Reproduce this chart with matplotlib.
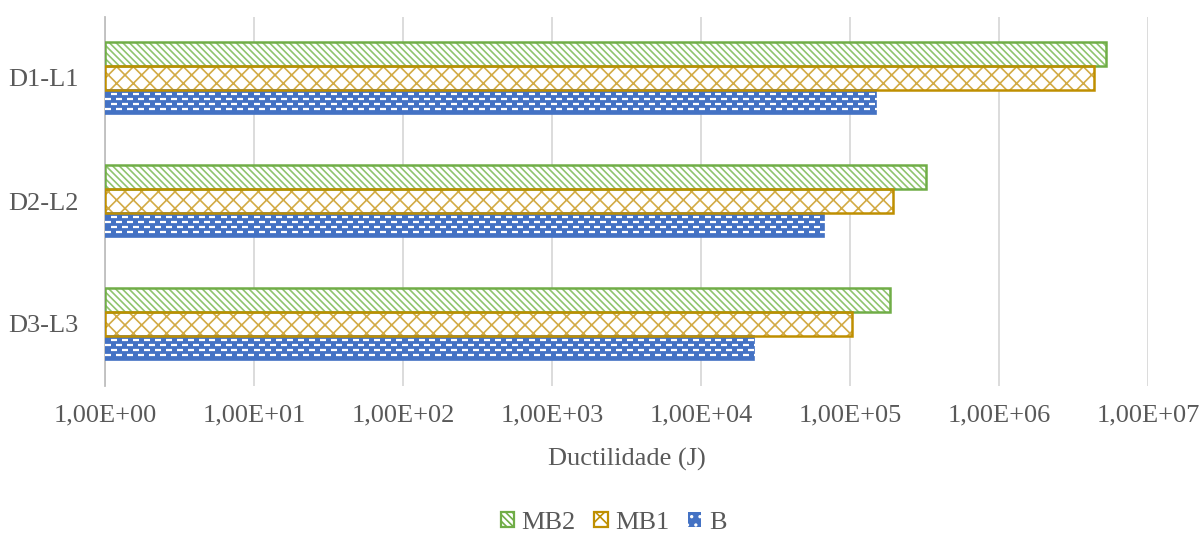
import numpy as np
import matplotlib
matplotlib.use("Agg")
import matplotlib.pyplot as plt
import matplotlib.transforms as mtransforms
from matplotlib.ticker import FuncFormatter, LogLocator, NullLocator
from matplotlib.patches import Patch

categories = ["D1-L1", "D2-L2", "D3-L3"]
series = ["MB2", "MB1", "B"]
mb2 = [5.2e6, 3.25e5, 1.85e5]
mb1 = [4.35e6, 1.95e5, 1.03e5]
b = [1.49e5, 6.7e4, 2.27e4]

plt.rcParams['font.family'] = ['Liberation Serif', 'DejaVu Serif']
plt.rcParams['hatch.linewidth'] = 1.2
txt = '#595959'
grid = '#d9d9d9'
green = '#70AD47'
green_h = '#8fc46e'
gold = '#BF8F00'
gold_h = '#d2ab45'
blue = '#4472C4'
fs = 19

W, H = 1201, 536
fig = plt.figure(figsize=(W / 100, H / 100), dpi=100)
ax_px = [105, 1148, 16.5, 385.5]
ax = fig.add_axes([ax_px[0] / W, 1 - ax_px[3] / H, (ax_px[1] - ax_px[0]) / W,
                   (ax_px[3] - ax_px[2]) / H])
ax_w = ax_px[1] - ax_px[0]
ax_h = ax_px[3] - ax_px[2]

ypos = np.arange(len(categories))[::-1]
h = 0.195

# MB2: light green diagonal hatch + green outline
ax.barh(ypos + h, mb2, height=h, left=1, facecolor='white', edgecolor=green_h,
        hatch='\\\\\\\\\\', linewidth=0, zorder=3)
ax.barh(ypos + h, mb2, height=h, left=1, facecolor='none', edgecolor=green,
        linewidth=1.8, zorder=4)
# MB1: gold weave-ish hatch + outline
ax.barh(ypos, mb1, height=h, left=1, facecolor='white', edgecolor=gold_h,
        hatch='xx', linewidth=0, zorder=3)
ax.barh(ypos, mb1, height=h, left=1, facecolor='none', edgecolor=gold,
        linewidth=1.8, zorder=4)
# B: blue fill with staggered white dashes
bars_b = ax.barh(ypos - h, b, height=h, left=1, facecolor=blue, edgecolor=blue,
                 linewidth=1.2, zorder=3)
trans = mtransforms.blended_transform_factory(ax.transAxes, ax.transData)
px_y = 3.0 / ax_h
step = 11.0 / ax_w
for rect, yc in zip(bars_b.patches, ypos - h):
    for k, off in enumerate([-7.5, -2.5, 2.5, 7.5]):
        xs = np.arange(3.0 / ax_w + (k % 2) * step / 2, 1, step)
        dots = ax.scatter(xs, np.full_like(xs, yc + off * px_y), marker='_',
                          s=16, linewidths=1.6, color='white', transform=trans,
                          zorder=3.5)
        dots.set_clip_path(rect)

ax.set_xscale('log')
ax.set_xlim(1, 1e7)
ax.set_ylim(-0.5, 2.5)
ax.xaxis.set_major_locator(LogLocator(base=10, numticks=10))
ax.xaxis.set_minor_locator(NullLocator())
ax.xaxis.set_major_formatter(FuncFormatter(lambda v, p: f"{v:.2E}".replace('.', ',')))
ax.set_yticks(ypos)
ax.set_yticklabels(categories)

ax.grid(axis='x', color=grid, linewidth=1.3, zorder=0)
for s in ['top', 'right', 'bottom']:
    ax.spines[s].set_visible(False)
ax.spines['left'].set_color('#bfbfbf')
ax.spines['left'].set_linewidth(1.3)
ax.tick_params(axis='x', length=0, pad=14, labelsize=fs, labelcolor=txt)
ax.tick_params(axis='y', length=0, pad=19, labelsize=fs, labelcolor=txt)
ax.set_xlabel("Ductilidade (J)", fontsize=fs, color=txt, labelpad=15)

handles = [Patch(facecolor='white', edgecolor=green, hatch='\\\\\\\\\\', linewidth=1.6),
           Patch(facecolor='white', edgecolor=gold, hatch='xx', linewidth=1.6),
           Patch(facecolor=blue, edgecolor='white', hatch='..', linewidth=0)]
fig.legend(handles, series, loc='center', bbox_to_anchor=(0.511, 0.024), ncol=3,
           frameon=False, fontsize=fs, labelcolor=txt, handlelength=0.5,
           handleheight=0.5, handletextpad=0.3, columnspacing=0.7)

fig.savefig("out.png", dpi=100)
